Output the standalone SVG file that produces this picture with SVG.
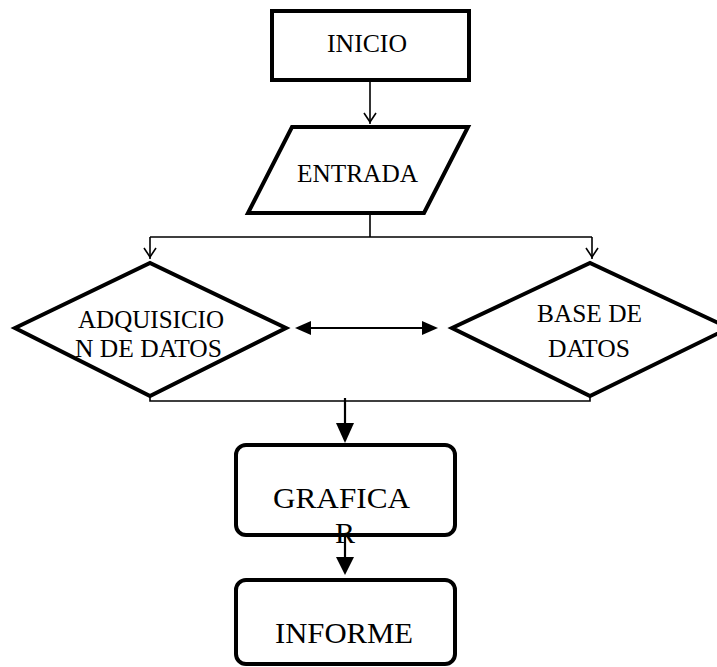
<svg xmlns="http://www.w3.org/2000/svg" width="717" height="667" viewBox="0 0 717 667">
<style>
.shape{fill:#fff;stroke:#000;stroke-width:4;stroke-linejoin:miter}
.t{font-family:"Liberation Serif","Times New Roman",serif;font-size:26px;fill:#000}
.tb{font-family:"Liberation Serif","Times New Roman",serif;font-size:30px;fill:#000}
.ln{fill:none;stroke:#000;stroke-width:1.6}
.ln2{fill:none;stroke:#000;stroke-width:2.2}
.fh{fill:#000;stroke:none}
</style>
<rect x="0" y="0" width="717" height="667" fill="#fff"/>
<g id="connectors">
<path class="ln" d="M370,81 V124"/>
<path class="ln" d="M364,113 L370,122 L376,113"/>
<path class="ln" d="M370,215 V237 M150,237 H592 M150,237 V259 M592,237 V259"/>
<path class="ln" d="M144,248 L150,257 L156,248 M586,248 L592,257 L598,248"/>
<path class="ln2" d="M309,328 H424"/>
<polygon class="fh" points="295,328 311,321 311,335"/>
<polygon class="fh" points="438,328 422,321 422,335"/>
<path class="ln" d="M150,397 V401 H590 V397"/>
<path class="ln2" d="M345,398 V426"/>
<polygon class="fh" points="336,423 354,423 345,443"/>
<path class="ln2" d="M345,537 V560"/>
<polygon class="fh" points="336,557 354,557 345,575"/>
</g>
<g id="inicio">
<rect class="shape" x="272" y="11" width="197" height="69"/>
<text class="t" x="327" y="52" textLength="80" lengthAdjust="spacingAndGlyphs">INICIO</text>
</g>
<g id="entrada">
<polygon class="shape" points="292,127 468,127 424,213 248,213"/>
<text class="t" x="297" y="182" textLength="121" lengthAdjust="spacingAndGlyphs">ENTRADA</text>
</g>
<g id="adquisicion">
<polygon class="shape" points="15,328 150,263 286,328 150,396"/>
<text class="t" x="78" y="328" textLength="146" lengthAdjust="spacingAndGlyphs">ADQUISICIO</text>
<text class="t" x="75" y="357" textLength="147" lengthAdjust="spacingAndGlyphs">N DE DATOS</text>
</g>
<g id="base">
<polygon class="shape" points="452,328 590,263 729,328 590,396"/>
<text class="t" x="537" y="322" textLength="105" lengthAdjust="spacingAndGlyphs">BASE DE</text>
<text class="t" x="548" y="357" textLength="82" lengthAdjust="spacingAndGlyphs">DATOS</text>
</g>
<g id="graficar">
<rect class="shape" x="236" y="445" width="219" height="90" rx="10"/>
<text class="tb" x="273" y="508" textLength="137" lengthAdjust="spacingAndGlyphs">GRAFICA</text>
<text class="tb" x="335" y="543">R</text>
</g>
<g id="informe">
<rect class="shape" x="236" y="580" width="219" height="84" rx="10"/>
<text class="tb" x="275" y="643" textLength="138" lengthAdjust="spacingAndGlyphs">INFORME</text>
</g>
</svg>
